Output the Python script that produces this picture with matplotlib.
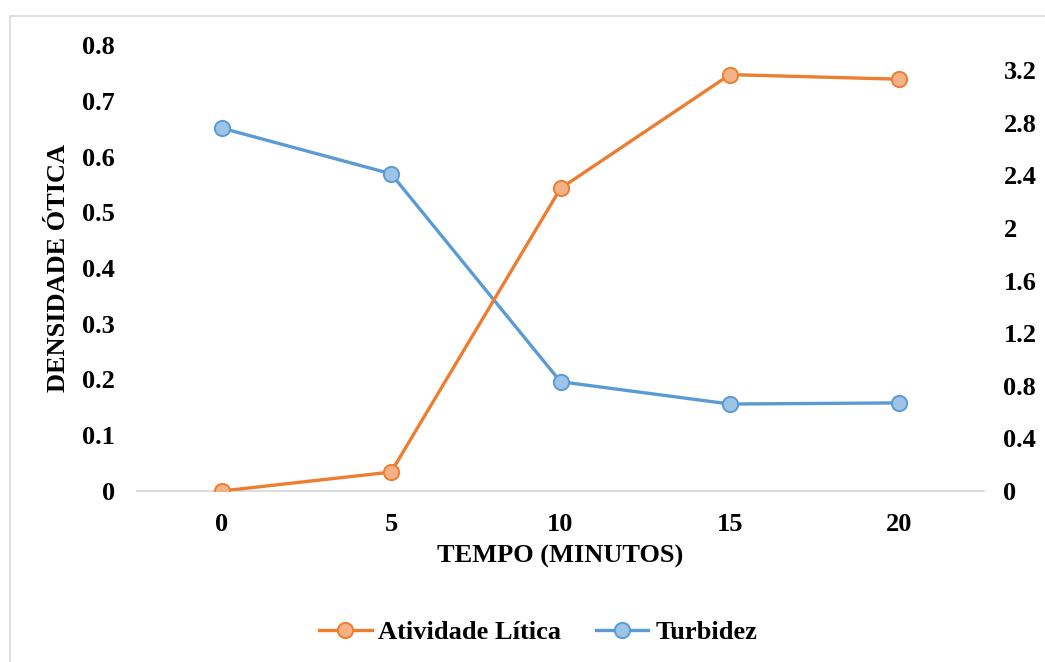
import matplotlib.pyplot as plt
from matplotlib.patches import Rectangle

# tempo em minutos e leituras das duas séries
tempo = [0, 5, 10, 15, 20]
turbidez = [0.651, 0.569, 0.196, 0.156, 0.158]
atividade_litica = [0.0, 0.144, 2.30, 3.165, 3.13]

left_ticks = [0, 0.1, 0.2, 0.3, 0.4, 0.5, 0.6, 0.7, 0.8]
right_ticks = [0, 0.4, 0.8, 1.2, 1.6, 2, 2.4, 2.8, 3.2]

plt.rcParams['font.family'] = ['Liberation Serif', 'DejaVu Serif']
plt.rcParams['font.weight'] = 'bold'

orange = '#ED7D31'
orange_fill = '#F4B183'
blue = '#5B9BD5'
blue_fill = '#9DC3E6'
fs = 19

fig = plt.figure(figsize=(10.45, 6.62), dpi=100)
# moldura cinza clara do gráfico
fig.patches.append(Rectangle((9.5 / 1045, -0.1), 1.2, 1.1 - 15.5 / 662,
                             transform=fig.transFigure, fill=False,
                             edgecolor='#D9D9D9', linewidth=1.2))

ax = fig.add_axes([137 / 1045, 1 - 491 / 662, (984 - 137) / 1045, (491 - 45) / 662])
ax2 = ax.twinx()

xpos = list(range(len(tempo)))
ax.plot(xpos, turbidez, color=blue, linewidth=2.4, marker='o', markersize=11,
        markerfacecolor=blue_fill, markeredgecolor=blue, markeredgewidth=1.4,
        label='Turbidez', zorder=3)
ax2.plot(xpos, atividade_litica, color=orange, linewidth=2.4, marker='o', markersize=11,
         markerfacecolor=orange_fill, markeredgecolor=orange, markeredgewidth=1.4,
         label='Atividade Lítica', zorder=3)

ax.set_xlim(-0.5, len(tempo) - 0.5)
ax.set_ylim(0, 0.8)
ax2.set_ylim(0, 0.8 * 3.2 / (491 - 70) * (491 - 45) / 0.8)

ax.set_xticks(xpos)
ax.set_xticklabels([str(t) for t in tempo])
ax.set_yticks(left_ticks)
ax.set_yticklabels(['0' if v == 0 else f'{v:.1f}' for v in left_ticks])
ax2.set_yticks(right_ticks)
ax2.set_yticklabels([f'{v:g}' for v in right_ticks])

for a in (ax, ax2):
    for s in ('top', 'left', 'right', 'bottom'):
        a.spines[s].set_visible(False)
    a.tick_params(length=0, labelsize=fs)
ax.spines['bottom'].set_visible(True)
ax.spines['bottom'].set_color('#D9D9D9')
ax.spines['bottom'].set_linewidth(1.3)
ax.tick_params(axis='y', pad=16)
ax.tick_params(axis='x', pad=16)
ax2.tick_params(axis='y', pad=14)

ax.set_ylabel('DENSIDADE ÓTICA', fontsize=fs, fontweight='bold')
ax.yaxis.set_label_coords((70 - 137) / 847, 0.5)
ax.set_xlabel('TEMPO (MINUTOS)', fontsize=fs, fontweight='bold', labelpad=6)

h1, l1 = ax2.get_legend_handles_labels()
h2, l2 = ax.get_legend_handles_labels()
fig.legend(h1 + h2, l1 + l2, loc='center', bbox_to_anchor=(538 / 1045, 1 - 632 / 662),
           ncol=2, frameon=False, fontsize=fs, handlelength=2.0, columnspacing=1.3,
           handletextpad=0.25)

fig.savefig('out.png', dpi=100)
